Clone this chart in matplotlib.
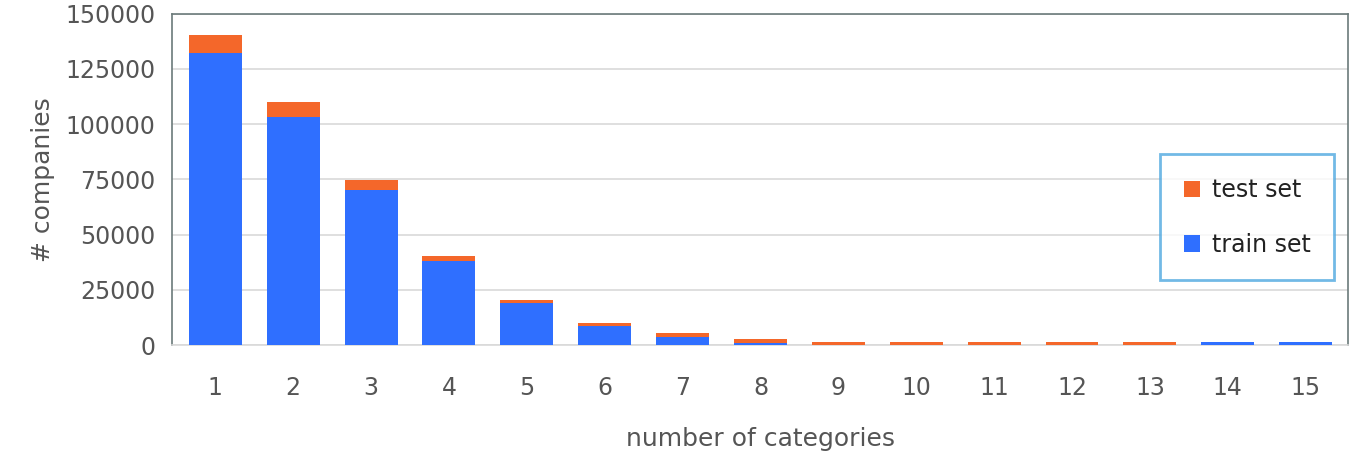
import matplotlib
matplotlib.use("Agg")
import matplotlib.pyplot as plt

categories = [str(i) for i in range(1, 16)]
train = [132000, 103000, 70000, 38000, 19000, 8800, 3700, 1000, 0, 0, 0, 0, 0, 1400, 1400]
test = [8500, 7200, 4800, 2500, 1500, 1300, 1800, 1700, 1400, 1400, 1400, 1400, 1400, 0, 0]

fig = plt.figure(figsize=(13.58, 4.54), dpi=100)
ax = fig.add_axes([0.127, 0.24, 0.866, 0.73])
x = range(len(categories))
ax.bar(x, train, width=0.68, color="#2F6FFF", label="train set", zorder=3)
ax.bar(x, test, width=0.68, bottom=train, color="#F4672A", label="test set", zorder=3)
ax.set_xlim(-0.55, 14.55)
ax.set_ylim(0, 150000)
ax.set_yticks(range(0, 150001, 25000))
ax.set_xticks(list(x))
ax.set_xticklabels(categories)
ax.grid(axis="y", color="#D9D9D9", lw=1.2, zorder=0)
for s in ax.spines.values():
    s.set_color("#6B7A7A")
    s.set_linewidth(1.2)
ax.spines["bottom"].set_color("#D9D9D9")
ax.tick_params(axis="y", length=0, labelsize=17, colors="#555555", pad=12)
ax.tick_params(axis="x", length=0, labelsize=17, colors="#555555", pad=22)
ax.set_xlabel("number of categories", fontsize=18, color="#555555", labelpad=20)
ax.set_ylabel("# companies", fontsize=18, color="#555555", labelpad=8)
h, l = ax.get_legend_handles_labels()
leg = ax.legend(h[::-1], l[::-1], loc="center right", bbox_to_anchor=(0.998, 0.385),
                fontsize=17, frameon=True, fancybox=False, handlelength=0.7,
                handleheight=0.7, labelspacing=1.3, borderpad=1.0, handletextpad=0.5)
leg.get_frame().set_edgecolor("#4FA8E0")
leg.get_frame().set_linewidth(2)
for t in leg.get_texts():
    t.set_color("#222222")
fig.savefig("out.png")
